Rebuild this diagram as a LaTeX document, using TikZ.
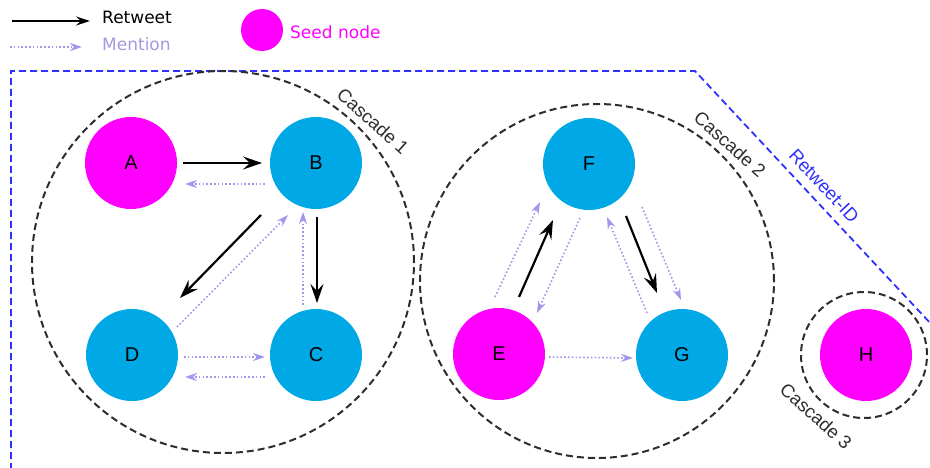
\documentclass[tikz,border=0pt]{standalone}
\usepackage{fontspec}
\setmainfont{Liberation Sans}
\newfontfamily\legfont{DejaVu Sans}
\usetikzlibrary{arrows.meta,calc}
\definecolor{seedmag}{RGB}{255,0,255}
\definecolor{nodecyan}{RGB}{0,169,230}
\definecolor{mentcol}{RGB}{160,150,235}
\definecolor{menttext}{RGB}{160,154,224}
\definecolor{boxblue}{RGB}{48,48,255}
\definecolor{casgray}{RGB}{45,45,45}
\tikzset{
  usernode/.style={circle,inner sep=0pt,minimum size=92pt,fill=nodecyan,text=black,font=\fontsize{20}{22}\selectfont},
  seednode/.style={usernode,fill=seedmag},
  cascade/.style={circle,draw=casgray,line width=2pt,dash pattern=on 7pt off 4pt,inner sep=0pt},
  caslabel/.style={text=casgray,font=\fontsize{18.5}{20}\selectfont,rotate=-42},
  rt/.style={draw=black,line width=2.2pt,-{Stealth[length=19pt,width=13pt,inset=7pt]}},
  mt/.style={draw=mentcol,line width=1.6pt,dash pattern=on 1.6pt off 2.2pt,-{Stealth[length=12pt,width=8pt,inset=4pt]}},
}
\begin{document}
\begin{tikzpicture}[x=1pt,y=-1pt]
\useasboundingbox (0,0) rectangle (930,468);
% retweet-ID boundary
\coordinate (bb0) at (11,470);
\coordinate (bb1) at (11,71);
\coordinate (bb2) at (695,71);
\coordinate (bb3) at (932,325);
\draw[boxblue,line width=1.8pt,dash pattern=on 7pt off 4pt] (bb0) -- (bb1) -- (bb2) -- (bb3);
\node[text=boxblue,font=\fontsize{18.5}{20}\selectfont,rotate=-47] (rid) at (824,186) {Retweet-ID};
% cascades
\node[cascade,minimum size=382pt] (c1) at (223,262) {};
\node[cascade,minimum size=354pt] (c2) at (597,281) {};
\node[cascade,minimum size=126pt] (c3) at (864,355) {};
\node[caslabel] (l1) at (373,121) {Cascade 1};
\node[caslabel] (l2) at (730,144) {Cascade 2};
\node[caslabel] (l3) at (816,416) {Cascade 3};
% users
\node[seednode] (A) at (131,163) {A};
\node[usernode] (B) at (316,163) {B};
\node[usernode] (C) at (316,355) {C};
\node[usernode] (D) at (132,355) {D};
\node[seednode] (E) at (499,354) {E};
\node[usernode] (F) at (589,164) {F};
\node[usernode] (G) at (682,355) {G};
\node[seednode] (H) at (866,355) {H};
% cascade 1 edges
\draw[rt] ($(A)+(52,0)$) -- ($(B)+(-54,0)$);
\draw[mt] ($(B)+(-51,21)$) -- ($(A)+(54,21)$);
\draw[rt] ($(B)+(1,54)$) -- ($(C)+(1,-52)$);
\draw[rt] ($(B)+(-55,52)$) -- ($(D)+(48,-57)$);
\draw[mt] ($(D)+(45,-28)$) -- ($(B)+(-28,52)$);
\draw[mt] ($(C)+(-13,-50)$) -- ($(B)+(-13,49)$);
\draw[mt] ($(D)+(52,2)$) -- ($(C)+(-51,2)$);
\draw[mt] ($(C)+(-51,22)$) -- ($(D)+(53,22)$);
% cascade 2 edges
\draw[mt] ($(E)+(-4,-57)$) -- ($(F)+(-49,38)$);
\draw[rt] ($(E)+(20,-57)$) -- ($(F)+(-36,56)$);
\draw[mt] ($(F)+(-9,54)$) -- ($(E)+(38,-41)$);
\draw[rt] ($(F)+(37,52)$) -- ($(G)+(-25,-62)$);
\draw[mt] ($(G)+(-35,-42)$) -- ($(F)+(18,53)$);
\draw[mt] ($(F)+(53,43)$) -- ($(G)+(-1,-55)$);
\draw[mt] ($(E)+(50,3)$) -- ($(G)+(-49,3)$);
% legend
\node[anchor=west,inner sep=0pt,font=\legfont\fontsize{17}{19}\selectfont] (lrt) at (102,17) {Retweet};
\node[anchor=west,inner sep=0pt,text=menttext,font=\legfont\fontsize{17}{19}\selectfont] (lmt) at (102,44) {Mention};
\coordinate (lrt0) at (12,21);
\coordinate (lmt0) at (10,47);
\draw[draw=black,line width=1.6pt,-{Stealth[length=14pt,width=9pt,inset=5pt]},shorten >=12pt] (lrt0) -- (lrt.west |- lrt0);
\draw[mt,shorten >=20pt] (lmt0) -- (lmt.west |- lmt0);
\node[circle,inner sep=0pt,minimum size=42pt,fill=seedmag] (lsd) at (262,30) {};
\node[anchor=west,inner sep=0pt,text=seedmag,font=\legfont\fontsize{17}{19}\selectfont] (lsdt) at (290,32) {Seed node};
\end{tikzpicture}
\end{document}
